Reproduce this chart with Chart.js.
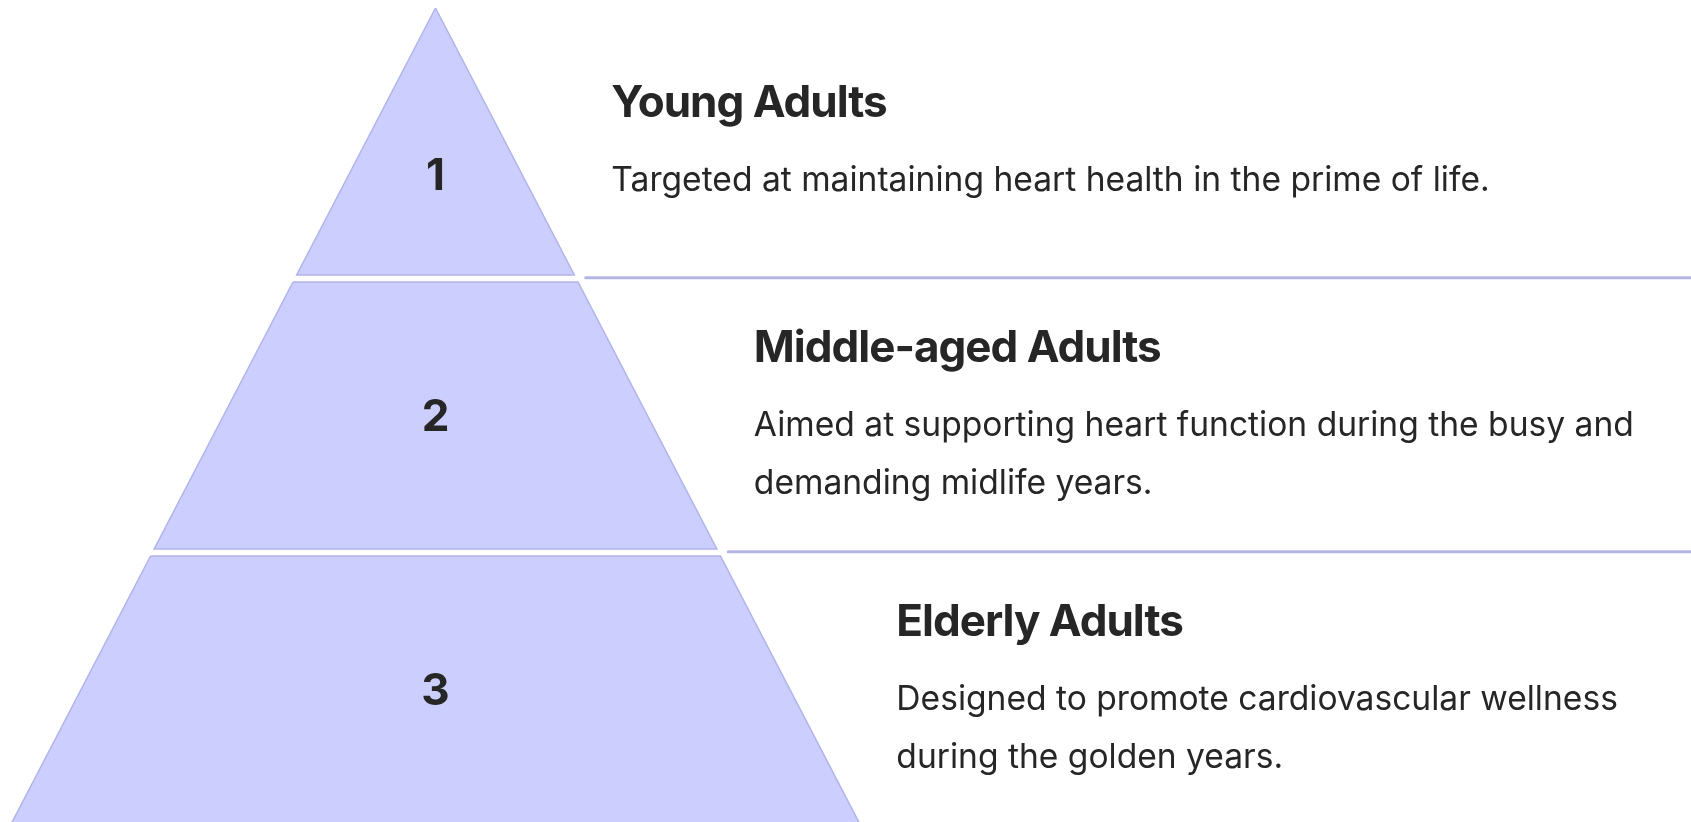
<!DOCTYPE html>
<html>
<head>
<meta charset="utf-8">
<script src="https://cdn.jsdelivr.net/npm/chart.js@4.4.1/dist/chart.umd.min.js"></script>
<style>
  html, body { margin: 0; padding: 0; background: #ffffff; }
  #wrap { width: 1691px; height: 822px; }
</style>
</head>
<body>
<div id="wrap"><canvas id="pyramid"></canvas></div>
<script>
'use strict';

// pyramid levels, top to bottom
const levelNumbers = ['1', '2', '3'];
const levelTitles = ['Young Adults', 'Middle-aged Adults', 'Elderly Adults'];
const levelDescriptions = [
  'Targeted at maintaining heart health in the prime of life.',
  'Aimed at supporting heart function during the busy and demanding midlife years.',
  'Designed to promote cardiovascular wellness during the golden years.'
];

const fillColor = '#cccefd';
const edgeColor = '#b1b4ea';
const textColor = '#262626';
const gap = 7 / 274;          // white gap between levels (in level units)
const halfSlope = 0.5;        // half width grows 0.5 x-units per level

const halfWidth = function(depth){
  return depth * halfSlope;
};

const levelShape = function(k){
  const top = k;
  const bot = k + 1 - gap;
  return [
    {x: -halfWidth(top), y: top},
    {x: halfWidth(top), y: top},
    {x: halfWidth(bot), y: bot},
    {x: -halfWidth(bot), y: bot},
    {x: -halfWidth(top), y: top}
  ];
};

const dividerLine = function(k){
  const y = k + 1 - gap * 0.62;
  return [
    {x: halfWidth(y) + 0.035, y: y},
    {x: 10, y: y}
  ];
};

const datasets = [];
levelNumbers.forEach((n, k) => {
  datasets.push({
    label: 'level ' + n,
    data: levelShape(k),
    backgroundColor: fillColor,
    borderColor: edgeColor,
    borderWidth: 1.5,
    borderJoinStyle: 'miter',
    fill: 'shape',
    pointRadius: 0,
    tension: 0
  });
});
for (let k = 0; k < levelNumbers.length - 1; k++) {
  datasets.push({
    label: 'divider ' + (k + 1),
    data: dividerLine(k),
    borderColor: '#b4b6e6',
    borderWidth: 3,
    borderCapStyle: 'round',
    fill: false,
    pointRadius: 0
  });
}

const wrapLines = function(ctx, text, maxWidth){
  const words = text.split(' ');
  const lines = [];
  let line = '';
  words.forEach(w => {
    const test = line ? line + ' ' + w : w;
    if (ctx.measureText(test).width > maxWidth && line) {
      lines.push(line);
      line = w;
    } else {
      line = test;
    }
  });
  if (line) lines.push(line);
  return lines;
};

const pyramidText = {
  id: 'pyramidText',
  afterDatasetsDraw(chart){
    const ctx = chart.ctx;
    const xs = chart.scales.x;
    const ys = chart.scales.y;
    ctx.save();
    ctx.fillStyle = textColor;
    ctx.textBaseline = 'middle';

    levelNumbers.forEach((n, k) => {
      const top = ys.getPixelForValue(k);
      const bot = ys.getPixelForValue(k + 1 - gap);
      const frac = k === 0 ? 0.625 : 0.5;

      // level number
      ctx.letterSpacing = '0px';
      ctx.font = '700 44px Inter';
      ctx.textAlign = 'center';
      ctx.fillText(n, xs.getPixelForValue(0), top + (bot - top) * frac + 2);

      // title + description
      const left = xs.getPixelForValue(halfWidth(k + 1 - gap)) + 37;
      ctx.font = '400 33.6px Inter';
      const lines = wrapLines(ctx, levelDescriptions[k], chart.width - left - 30);
      const blockH = 78 + 58 * (lines.length - 1);
      const titleY = (top + bot) / 2 - blockH / 2 + 1;

      ctx.textAlign = 'left';
      ctx.letterSpacing = '-1px';
      ctx.font = '700 44px Inter';
      ctx.fillText(levelTitles[k], left, titleY);
      ctx.letterSpacing = '0px';
      ctx.font = '400 33.6px Inter';
      lines.forEach((ln, i) => {
        ctx.fillText(ln, left, titleY + 77 + 58 * i);
      });
    });
    ctx.restore();
  }
};

const pxPerX = 285;
const pxPerY = 274;
const apexX = 435.5;
const apexY = 8;

new Chart(document.getElementById('pyramid').getContext('2d'), {
  type: 'line',
  data: { datasets: datasets },
  options: {
    responsive: true,
    maintainAspectRatio: false,
    animation: false,
    layout: { padding: 0 },
    plugins: {
      legend: { display: false },
      tooltip: { enabled: false },
      title: { display: false }
    },
    scales: {
      x: {
        type: 'linear',
        display: false,
        min: -apexX / pxPerX,
        max: (1691 - apexX) / pxPerX
      },
      y: {
        type: 'linear',
        display: false,
        reverse: true,
        min: -apexY / pxPerY,
        max: (822 - apexY) / pxPerY
      }
    }
  },
  plugins: [pyramidText]
});
</script>
</body>
</html>
